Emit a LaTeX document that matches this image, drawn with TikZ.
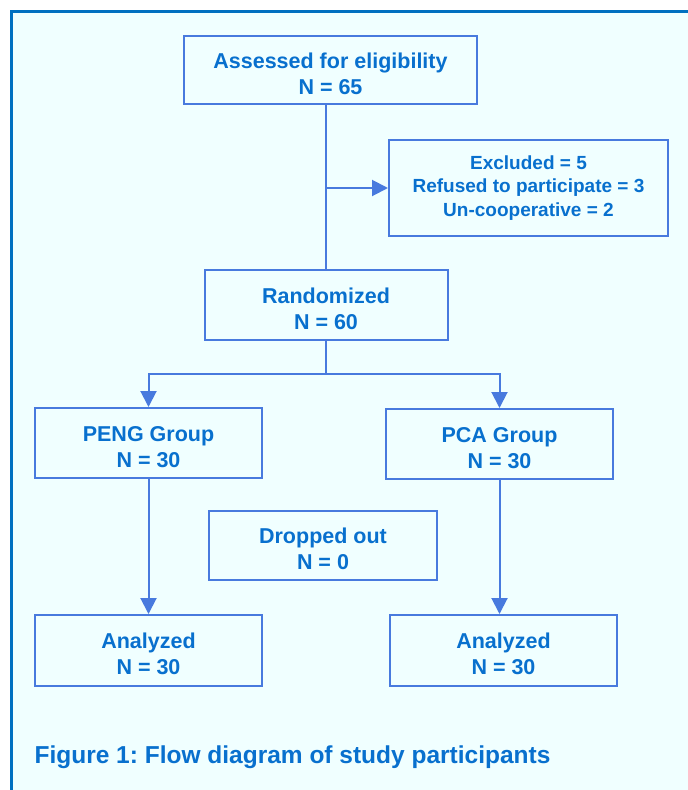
\documentclass[tikz,border=0pt]{standalone}
\usepackage{fontspec}
\setmainfont{Liberation Sans}
\usepackage{tikz}
\usetikzlibrary{arrows.meta}
\usetikzlibrary{positioning,calc}
\definecolor{framebg}{RGB}{240,255,255}
\definecolor{frameblue}{RGB}{0,112,192}
\definecolor{boxblue}{RGB}{72,122,222}
\definecolor{textblue}{RGB}{8,112,206}
\newcommand{\boxlift}{\rule{0pt}{23pt}}
\tikzset{
	every node/.style={font=\bfseries\fontsize{21.5}{26}\selectfont,text=textblue}
}
\tikzset{
	flow box/.style={draw=boxblue,line width=2pt,fill=framebg,align=center,inner sep=0pt,minimum width=227pt,minimum height=70pt},
	small text/.style={font=\bfseries\fontsize{19}{23.5}\selectfont}
}
\tikzset{
	link/.style={-{Triangle[width=16pt,length=16pt]},draw=boxblue,line width=2pt}
}
\begin{document}
\frenchspacing
\begin{tikzpicture}[x=1pt,y=-1pt]
	\useasboundingbox (0,0) rectangle (688,790);
	\clip (0,0) rectangle (688,790);
	\fill[white] (0,0) rectangle (688,790);
	\draw[draw=frameblue,line width=3pt,fill=framebg] (11,11) rectangle (710,810);
	% boxes
	\node[flow box, minimum width=293pt, minimum height=68pt] (assessed) at (330.5,70) {\boxlift Assessed for eligibility\\N = 65};
	\node[flow box, small text, minimum width=279pt, minimum height=96pt] (excluded) at (528.5,188) {Excluded = 5\\Refused to participate = 3\\Un-cooperative = 2};
	\node[flow box, minimum width=243pt] (randomized) at (326,305) {\boxlift Randomized\\N = 60};
	\node[flow box] (peng) at (148.5,443) {\boxlift PENG Group\\N = 30};
	\node[flow box] (pca) [right = 122pt of peng, yshift=-1pt] {\boxlift PCA Group\\N = 30};
	\node[flow box, minimum width=228pt, minimum height=69pt] (dropped) at (323,545.5) {\boxlift Dropped out\\N = 0};
	\node[flow box, minimum height=71pt] (analyzedA) [below = 135pt of peng] {\boxlift Analyzed\\N = 30};
	\node[flow box, minimum height=71pt] (analyzedB) [right = 126pt of analyzedA] {\boxlift Analyzed\\N = 30};
	% connectors
	\draw[link, -] (randomized.north |- assessed.south) -- (randomized.north);
	\draw[link] (randomized.north |- excluded.west) -- (excluded.west);
	\draw[link, -] (randomized.south) -- ++(0,33) coordinate (split);
	\draw[link] (split) -| (peng.north);
	\draw[link] (split) -| (pca.north);
	\draw[link] (peng.south) -- (analyzedA.north);
	\draw[link] (pca.south) -- (pca.south |- analyzedB.north);
	% caption
	\node[anchor=west, font=\bfseries\fontsize{24.5}{29}\selectfont] (caption) at (31,757) {Figure 1: Flow diagram of study participants};
\end{tikzpicture}
\end{document}
